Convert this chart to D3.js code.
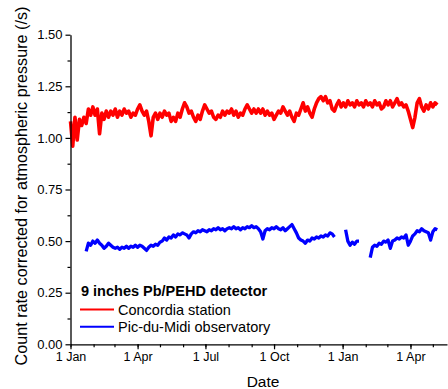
<!DOCTYPE html>
<html>
<head>
<meta charset="utf-8">
<script src="https://cdn.jsdelivr.net/npm/d3@7"></script>
<style>
  body { margin: 0; background: #fff; }
  svg text { font-family: "Liberation Sans", Arial, sans-serif; }
</style>
</head>
<body>
<svg id="chart" width="448" height="389"></svg>
<script>
//  sampling of the records (every 3 days)
const stepDays = 3;

//  Concordia station, from 1 Jan 2015
const concordiaStart = new Date(2015, 0, 1);
const concordiaRate = [
  1.08, 0.96, 1.10, 0.99, 1.09, 1.06, 1.10, 1.07, 1.14, 1.11,
  1.15, 1.11, 1.14, 1.02, 1.12, 1.09, 1.13, 1.10, 1.13, 1.11,
  1.14, 1.10, 1.13, 1.11, 1.14, 1.12, 1.13, 1.10, 1.12, 1.11,
  1.14, 1.16, 1.13, 1.11, 1.13, 1.08, 1.01, 1.10, 1.12, 1.09,
  1.12, 1.10, 1.13, 1.11, 1.12, 1.08, 1.10, 1.08, 1.12, 1.10,
  1.14, 1.17, 1.15, 1.12, 1.13, 1.10, 1.08, 1.11, 1.09, 1.13,
  1.16, 1.14, 1.12, 1.13, 1.10, 1.09, 1.11, 1.10, 1.13, 1.11,
  1.13, 1.12, 1.14, 1.11, 1.13, 1.10, 1.12, 1.11, 1.14, 1.16,
  1.14, 1.12, 1.14, 1.12, 1.14, 1.12, 1.14, 1.11, 1.13, 1.11,
  1.12, 1.09, 1.11, 1.13, 1.12, 1.15, 1.13, 1.11, 1.13, 1.10,
  1.08, 1.12, 1.11, 1.14, 1.17, 1.13, 1.15, 1.12, 1.10, 1.14,
  1.17, 1.19, 1.20, 1.18, 1.20, 1.17, 1.18, 1.14, 1.13, 1.16,
  1.18, 1.15, 1.17, 1.15, 1.18, 1.16, 1.17, 1.15, 1.18, 1.16,
  1.17, 1.15, 1.18, 1.16, 1.17, 1.15, 1.18, 1.16, 1.17, 1.14,
  1.15, 1.18, 1.16, 1.18, 1.15, 1.17, 1.19, 1.16, 1.17, 1.15,
  1.16, 1.13, 1.09, 1.05, 1.10, 1.17, 1.19, 1.15, 1.13, 1.16,
  1.14, 1.17, 1.15, 1.17, 1.16
];

//  Pic-du-Midi observatory, from 22 Jan 2015 (null = no data)
const picStart = new Date(2015, 0, 22);
const picRate = [
  0.45, 0.49, 0.48, 0.50, 0.49, 0.505, 0.49, 0.48, 0.465, 0.475,
  0.49, 0.48, 0.47, 0.465, 0.47, 0.46, 0.47, 0.465, 0.475, 0.465,
  0.475, 0.47, 0.48, 0.47, 0.48, 0.475, 0.465, 0.455, 0.47, 0.48,
  0.475, 0.485, 0.48, 0.495, 0.50, 0.515, 0.505, 0.52, 0.515, 0.53,
  0.52, 0.535, 0.53, 0.54, 0.535, 0.53, 0.515, 0.535, 0.545, 0.54,
  0.55, 0.545, 0.555, 0.55, 0.545, 0.555, 0.55, 0.56, 0.555, 0.565,
  0.555, 0.56, 0.55, 0.56, 0.565, 0.56, 0.57, 0.56, 0.565, 0.555,
  0.565, 0.56, 0.57, 0.565, 0.575, 0.565, 0.57, 0.56, 0.545, 0.51,
  0.55, 0.56, 0.555, 0.565, 0.56, 0.57, 0.56, 0.555, 0.565, 0.55,
  0.56, 0.57, 0.58, 0.56, 0.54, 0.515, 0.505, 0.50, 0.49, 0.505,
  0.50, 0.515, 0.51, 0.52, 0.515, 0.525, 0.52, 0.53, 0.525, 0.54,
  0.535, 0.52, null, null, null, null, 0.555, 0.50, 0.48, 0.495,
  0.485, 0.50, 0.50, null, null, null, null, 0.42, 0.47, 0.48,
  0.475, 0.49, 0.485, 0.50, 0.495, 0.505, 0.465, 0.50, 0.505, 0.515,
  0.51, 0.52, 0.515, 0.53, 0.48, 0.50, 0.525, 0.535, 0.55, 0.545,
  0.56, 0.55, 0.545, 0.54, 0.505, 0.545, 0.56, 0.555
];

const seriesNames = ["Concordia station", "Pic-du-Midi observatory"];
const seriesColors = ["#ff0000", "#0000ff"];
const legendTitle = "9 inches Pb/PEHD detector";
const yTicks = [0, 0.25, 0.5, 0.75, 1.0, 1.25, 1.5];
const xMajorTicks = [new Date(2015, 0, 1), new Date(2015, 3, 1), new Date(2015, 6, 1),
                     new Date(2015, 9, 1), new Date(2016, 0, 1), new Date(2016, 3, 1)];

//  turn the value lists into points
function to_points(start, values) {
  return values.map((v, i) => ({ date: d3.timeDay.offset(start, i * stepDays), value: v }));
}

const series = [to_points(concordiaStart, concordiaRate), to_points(picStart, picRate)];

const margin = ({top: 34.7, right: 1, bottom: 44.7, left: 70.5});
const w = 448;
const h = 389;

const svg = d3.select("#chart");

const x = d3.scaleTime()
  .domain([new Date(2015, 0, 1), new Date(2016, 4, 20)])
  .range([margin.left, w - margin.right]);

const y = d3.scaleLinear()
  .domain([0, 1.5])
  .range([h - margin.bottom, margin.top]);

//  draw series
const line = d3.line()
  .defined(d => d.value != null)
  .x(d => x(d.date))
  .y(d => y(d.value));

series.forEach((s, i) => {
  svg.append("path")
     .datum(s)
     .attr("fill", "none")
     .attr("stroke", seriesColors[i])
     .attr("stroke-width", i == 0 ? 3.6 : 3.3)
     .attr("stroke-linejoin", "round")
     .attr("d", line);
});

//  y axis
const yAxis = svg.append("g")
  .attr("transform", `translate(${margin.left},0)`)
  .call(d3.axisLeft(y).tickValues(yTicks).tickFormat(d3.format(".2f")).tickSize(5).tickSizeOuter(0));
svg.append("g")
  .attr("transform", `translate(${margin.left},0)`)
  .call(d3.axisLeft(y).tickValues(d3.range(0.125, 1.5, 0.25)).tickFormat("").tickSize(3).tickSizeOuter(0))
  .select(".domain").remove();

//  x axis
const xAxis = svg.append("g")
  .attr("transform", `translate(0,${h - margin.bottom})`)
  .call(d3.axisBottom(x).tickValues(xMajorTicks).tickFormat(d3.timeFormat("1 %b")).tickSize(5).tickSizeOuter(0));
svg.append("g")
  .attr("transform", `translate(0,${h - margin.bottom})`)
  .call(d3.axisBottom(x).ticks(d3.timeMonth.every(1)).tickFormat("").tickSize(3).tickSizeOuter(0))
  .select(".domain").remove();

svg.selectAll(".domain").attr("stroke", "#000").attr("stroke-width", 1.3);
svg.selectAll(".tick line").attr("stroke", "#000").attr("stroke-width", 1.2);
yAxis.selectAll("text").attr("font-size", 13).attr("fill", "#000").attr("x", -8)
  .style("font-family", "Liberation Sans, Arial, sans-serif");
xAxis.selectAll("text").attr("font-size", 12.5).attr("fill", "#000").attr("y", 8)
  .style("font-family", "Liberation Sans, Arial, sans-serif");

//  axis titles
svg.append("text")
   .attr("transform", `translate(27,${186}) rotate(-90)`)
   .attr("text-anchor", "middle")
   .attr("font-size", 16.2)
   .text("Count rate corrected for atmospheric pressure (/s)");

svg.append("text")
   .attr("x", 263)
   .attr("y", 387)
   .attr("text-anchor", "middle")
   .attr("font-size", 15.5)
   .text("Date");

//  legend
svg.append("text")
   .attr("x", 81)
   .attr("y", 296)
   .attr("font-size", 14.5)
   .attr("font-weight", "bold")
   .text(legendTitle);

seriesNames.forEach((name, i) => {
  const ly = 309.5 + i * 17.3;
  svg.append("line")
     .attr("x1", 80).attr("x2", 114)
     .attr("y1", ly).attr("y2", ly)
     .attr("stroke", seriesColors[i])
     .attr("stroke-width", 2);
  svg.append("text")
     .attr("x", 118)
     .attr("y", ly + 5)
     .attr("font-size", 14.5)
     .text(name);
});
</script>
</body>
</html>
